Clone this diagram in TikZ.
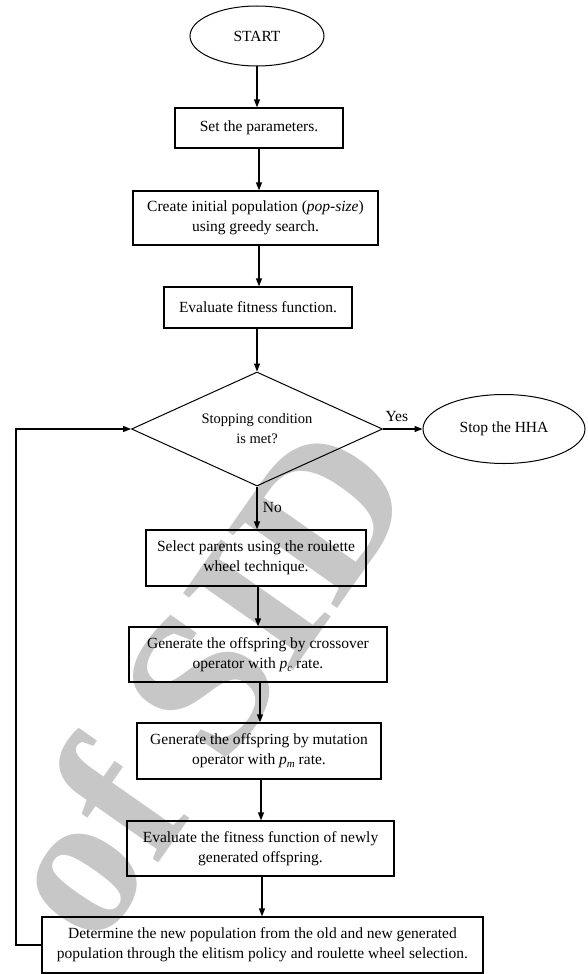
\documentclass[tikz,border=0pt]{standalone}
\usepackage{fontspec}
\setmainfont{Liberation Serif}
\usetikzlibrary{shapes.geometric,arrows.meta}
\newcommand{\pvar}[1]{\textit{p}\raisebox{-0.4ex}{\fontsize{11}{11}\selectfont\textit{#1}}}
\begin{document}
\begin{tikzpicture}[x=1pt,y=-1pt,
  every node/.style={font=\fontsize{15.5}{20}\selectfont, text=black},
  procbox/.style={draw, line width=1.3pt, rectangle, inner sep=0pt, align=center},
  term/.style={draw, line width=1pt, ellipse, inner sep=0pt, align=center},
  decis/.style={draw, line width=1pt, diamond, aspect=2.2, inner sep=0pt, align=center, minimum width=251pt, minimum height=114pt, font=\fontsize{14.5}{20}\selectfont},
  arr/.style={line width=1.3pt, -{Triangle[length=8pt,width=6pt]}},
  wm/.style={text=black!22, inner sep=0pt, font=\fontsize{205}{205}\selectfont\bfseries}
]
\useasboundingbox (0,0) rectangle (587,974);
\fill[white] (0,0) rectangle (587,974);

% watermark
\node[wm, rotate=55] (wmark) at (200,680) {of SID};

\node[term, minimum width=134pt, minimum height=60pt] (start) at (257,36) {START};
\node[procbox, minimum width=168pt, minimum height=40pt] (n1) at (259,128) {Set the parameters.};
\node[procbox, minimum width=245pt, minimum height=54pt] (n2) at (255.5,218) {Create initial population (\textit{pop-size})\\using greedy search.};
\node[procbox, minimum width=188pt, minimum height=41pt] (n3) at (258,307.5) {Evaluate fitness function.};
\node[decis] (dia) at (257,429) {Stopping condition\\is met?};
\node[term, minimum width=162pt, minimum height=69pt] (stop) at (504,429) {Stop the HHA};
\node[procbox, minimum width=220pt, minimum height=56pt] (n4) at (256,558) {Select parents using the roulette\\wheel technique.};
\node[procbox, minimum width=258pt, minimum height=55pt] (n5) at (258,654.5) {Generate the offspring by crossover\\operator with \pvar{c} rate.};
\node[procbox, minimum width=244pt, minimum height=56pt] (n6) at (259,751) {Generate the offspring by mutation\\operator with \pvar{m} rate.};
\node[procbox, minimum width=267pt, minimum height=55pt] (n7) at (260.5,848.5) {Evaluate the fitness function of newly\\generated offspring.};
\node[procbox, minimum width=441pt, minimum height=56pt] (n8) at (262.5,945) {Determine the new population from the old and new generated\\population through the elitism policy and roulette wheel selection.};

\coordinate (loop) at (16,429);

\draw[arr] (start.south) -- (start.south |- n1.north);
\draw[arr] (n1.south) -- (n1.south |- n2.north);
\draw[arr] (n2.south -| n1.south) -- (n1.south |- n3.north);
\draw[arr] (n3.south -| dia.north) -- (dia.north);
\draw[arr] (dia.east) -- (stop.west) node[pos=0.35, above=3pt] (yes) {Yes};
\draw[arr] (dia.south) -- (dia.south |- n4.north) node[pos=0.5, right=2pt] (no) {No};
\draw[arr] (n4.south -| 258,0) -- (258,0 |- n5.north);
\draw[arr] (n5.south -| 260,0) -- (260,0 |- n6.north);
\draw[arr] (n6.south -| 261,0) -- (261,0 |- n7.north);
\draw[arr] (n7.south -| 262,0) -- (262,0 |- n8.north);
\draw[arr] (n8.west) -| (loop) -- (dia.west);
\end{tikzpicture}
\end{document}
